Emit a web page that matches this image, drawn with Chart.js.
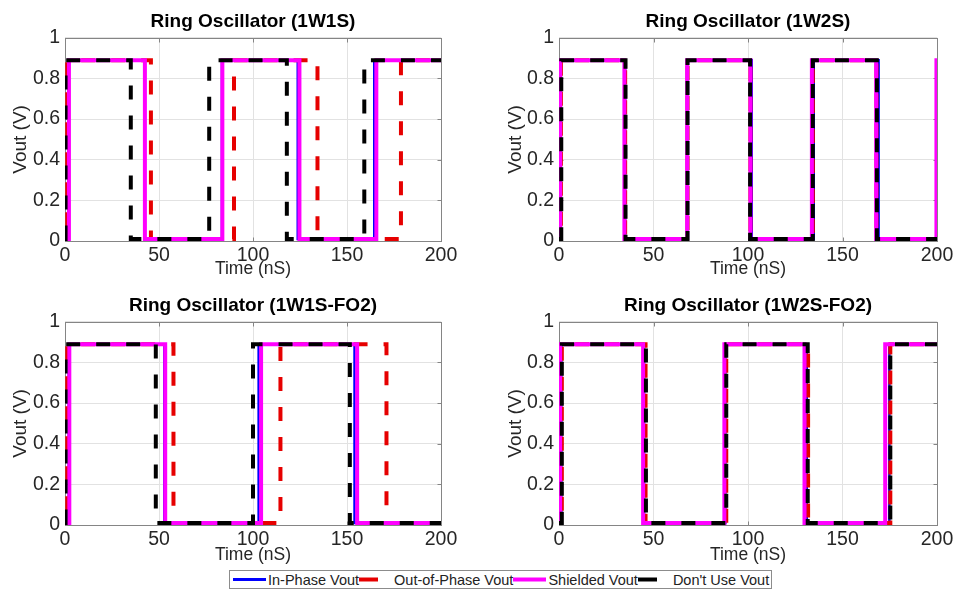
<!DOCTYPE html>
<html>
<head>
<meta charset="utf-8">
<script src="https://cdn.jsdelivr.net/npm/chart.js@4.4.0/dist/chart.umd.min.js"></script>
<style>
  html, body { margin: 0; padding: 0; background: #fff; overflow: hidden; width: 954px; height: 589px; }
  canvas { position: absolute; }
  #legend { position: absolute; left: 229px; top: 570px; height: 17px; border: 1px solid #8c8c8c; background: #fff;
            display: flex; align-items: center; white-space: nowrap; padding: 0 2px 0 3px;
            font: 14.5px "Liberation Sans", Arial, sans-serif; color: #222; }
  #legend .item { display: flex; align-items: center; }
  #legend svg { width: 33px; height: 17px; }
  #legend span { margin-left: 2px; }
</style>
</head>
<body>
<canvas id="p1" width="466" height="280" style="left:0;top:0"></canvas>
<canvas id="p2" width="467" height="280" style="left:490px;top:0"></canvas>
<canvas id="p3" width="466" height="282" style="left:0;top:284px"></canvas>
<canvas id="p4" width="467" height="282" style="left:490px;top:284px"></canvas>
<div id="legend"></div>

<script>
  // axes
  var xTicks = [0, 50, 100, 150, 200];
  var xTickLabels = ['0', '50', '100', '150', '200'];
  var yTicks = [0, 0.2, 0.4, 0.6, 0.8, 1];
  var yTickLabels = ['0', '0.2', '0.4', '0.6', '0.8', '1'];

  // logic levels (V)
  var vHigh = 0.89;
  var vLow = 0.01;

  var seriesLabels = ['In-Phase Vout', 'Out-of-Phase Vout', 'Shielded Vout', "Don't Use Vout"];
  var seriesColors = ['#0000ff', '#e60000', '#ff00ff', '#000000'];
  var seriesWidths = [2.5, 4, 4, 4];
  var seriesDashes = [[], [14, 16], [], [14, 16]];
  var seriesDashOffsets = [0, 15, 0, 0];

  // switching edge times (nS), alternating rise / fall, every trace starts low
  var inPhase1W1S   = [1.8, 42.3, 83.5, 123.8, 164.5];
  var outPhase1W1S  = [1.2, 45.7, 89.9, 134.3, 178.7];
  var shielded1W1S  = [2.1, 42.5, 83.7, 124.7, 165.6];
  var dontUse1W1S   = [0.3, 35.0, 76.7, 118.0, 159.2];

  var inPhase1W2S   = [1.0, 35.0, 68.2, 102.0, 134.8, 169.1];
  var outPhase1W2S  = [1.0, 35.0, 68.0, 101.3, 134.3, 168.0];
  var shielded1W2S  = [0.6, 34.6, 67.8, 101.3, 133.8, 167.8, 199.7];
  var dontUse1W2S   = [1.2, 35.2, 68.0, 101.1, 134.3, 168.2];

  var inPhase1W1SFO2  = [2.0, 52.8, 103.0, 154.0];
  var outPhase1W1SFO2 = [1.2, 57.7, 114.6, 171.0];
  var shielded1W1SFO2 = [2.3, 53.3, 104.3, 155.4];
  var dontUse1W1SFO2  = [0.3, 48.3, 100.0, 151.5];

  var inPhase1W2SFO2  = [1.2, 45.0, 88.0, 131.1, 174.8];
  var outPhase1W2SFO2 = [1.5, 45.8, 88.5, 131.8, 175.3];
  var shielded1W2SFO2 = [0.6, 44.5, 87.5, 129.9, 172.6];
  var dontUse1W2SFO2  = [1.5, 46.0, 88.5, 131.6, 175.3];

  Chart.defaults.font.family = '"Liberation Sans", Arial, Helvetica, sans-serif';
  Chart.defaults.color = '#262626';

  var gridColor = '#e2e2e2';
  var boxColor = '#858585';

  // turn a list of edge times into points for a stepped line
  function toSteps(edges) {
    var pts = [{ x: xTicks[0], y: vLow }];
    var level = vLow;
    edges.forEach(function (t) {
      level = (level === vLow) ? vHigh : vLow;
      pts.push({ x: t, y: level });
    });
    pts.push({ x: xTicks[xTicks.length - 1], y: level });
    return pts;
  }

  // matlab style box with inward ticks
  var axesBox = {
    id: 'axesBox',
    beforeDatasetsDraw: function (chart) {
      var ctx = chart.ctx, a = chart.chartArea, sx = chart.scales.x, sy = chart.scales.y;
      var l = Math.round(a.left) + 0.5, r = Math.round(a.right) + 0.5;
      var t = Math.round(a.top) + 0.5, b = Math.round(a.bottom) + 0.5;
      ctx.save();
      ctx.strokeStyle = boxColor;
      ctx.lineWidth = 1;
      ctx.strokeRect(l, t, r - l, b - t);
      ctx.beginPath();
      xTicks.forEach(function (v) {
        var px = Math.round(sx.getPixelForValue(v)) + 0.5;
        ctx.moveTo(px, b); ctx.lineTo(px, b - 4);
        ctx.moveTo(px, t); ctx.lineTo(px, t + 4);
      });
      yTicks.forEach(function (v) {
        var py = Math.round(sy.getPixelForValue(v)) + 0.5;
        ctx.moveTo(l, py); ctx.lineTo(l + 4, py);
        ctx.moveTo(r, py); ctx.lineTo(r - 4, py);
      });
      ctx.stroke();
      ctx.restore();
    }
  };

  function makePanel(id, title, series, lay) {
    var ctx = document.getElementById(id).getContext('2d');
    return new Chart(ctx, {
      type: 'line',
      data: {
        datasets: series.map(function (edges, i) {
          return {
            label: seriesLabels[i],
            data: toSteps(edges),
            borderColor: seriesColors[i],
            backgroundColor: seriesColors[i],
            borderWidth: seriesWidths[i],
            borderDash: seriesDashes[i],
            borderDashOffset: seriesDashOffsets[i],
            stepped: true,
            pointRadius: 0,
            fill: false,
            order: series.length - i
          };
        })
      },
      options: {
        responsive: false,
        animation: false,
        events: [],
        layout: { padding: { top: 1, right: lay.padRight, bottom: 0, left: 0 } },
        plugins: {
          legend: { display: false },
          tooltip: { enabled: false },
          title: {
            display: true,
            text: title,
            fullSize: false,
            color: '#000',
            font: { size: 19, weight: 'bold' },
            padding: { top: 9, bottom: 5 }
          }
        },
        scales: {
          x: {
            type: 'linear',
            min: xTicks[0],
            max: xTicks[xTicks.length - 1],
            afterBuildTicks: function (axis) { axis.ticks = xTicks.map(function (v) { return { value: v }; }); },
            afterFit: function (axis) { axis.height = lay.xHeight; },
            grid: { color: gridColor, drawTicks: false },
            border: { display: false },
            ticks: {
              autoSkip: false, maxRotation: 0, padding: 3,
              font: { size: 19.5 },
              callback: function (v, i) { return xTickLabels[i]; }
            },
            title: { display: true, text: 'Time (nS)', color: '#262626', font: { size: 17.5 }, padding: { top: 0, bottom: 0 } }
          },
          y: {
            min: yTicks[0],
            max: yTicks[yTicks.length - 1],
            afterBuildTicks: function (axis) { axis.ticks = yTicks.map(function (v) { return { value: v }; }); },
            afterFit: function (axis) { axis.width = lay.yWidth; },
            grid: { color: gridColor, drawTicks: false },
            border: { display: false },
            ticks: {
              autoSkip: false, padding: 5,
              font: { size: 19.5 },
              callback: function (v, i) { return yTickLabels[i]; }
            },
            title: { display: true, text: 'Vout (V)', color: '#262626', font: { size: 19 }, padding: { top: lay.yTitlePad, bottom: 0 } }
          }
        }
      },
      plugins: [axesBox]
    });
  }

  var leftCol = { padRight: 25, yWidth: 65, yTitlePad: 9, xHeight: 39 };
  var rightCol = { padRight: 20, yWidth: 69, yTitlePad: 14, xHeight: 39 };
  var leftColLow = { padRight: 25, yWidth: 65, yTitlePad: 9, xHeight: 41 };
  var rightColLow = { padRight: 20, yWidth: 69, yTitlePad: 14, xHeight: 41 };

  makePanel('p1', 'Ring Oscillator (1W1S)', [inPhase1W1S, outPhase1W1S, shielded1W1S, dontUse1W1S], leftCol);
  makePanel('p2', 'Ring Oscillator (1W2S)', [inPhase1W2S, outPhase1W2S, shielded1W2S, dontUse1W2S], rightCol);
  makePanel('p3', 'Ring Oscillator (1W1S-FO2)', [inPhase1W1SFO2, outPhase1W1SFO2, shielded1W1SFO2, dontUse1W1SFO2], leftColLow);
  makePanel('p4', 'Ring Oscillator (1W2S-FO2)', [inPhase1W2SFO2, outPhase1W2SFO2, shielded1W2SFO2, dontUse1W2SFO2], rightColLow);

  // shared legend along the bottom
  var legend = document.getElementById('legend');
  seriesLabels.forEach(function (label, i) {
    var item = document.createElement('div');
    item.className = 'item';
    var dash = seriesDashes[i].length ? ' stroke-dasharray="19 14"' : '';
    item.innerHTML = '<svg viewBox="0 0 33 17"><line x1="0" y1="8.5" x2="33" y2="8.5" stroke="' + seriesColors[i] +
      '" stroke-width="' + (i === 0 ? 3 : 4) + '"' + dash + '/></svg>';
    var txt = document.createElement('span');
    txt.textContent = label;
    item.appendChild(txt);
    legend.appendChild(item);
  });
</script>
</body>
</html>
